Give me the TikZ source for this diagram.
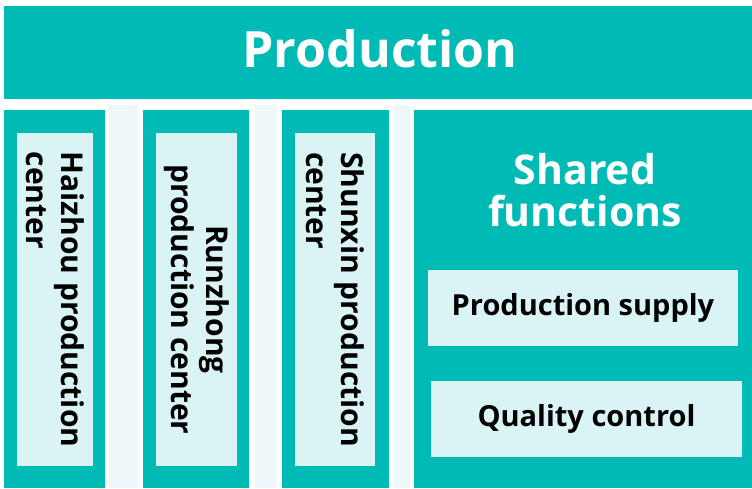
\documentclass[tikz,border=0pt]{standalone}
\usepackage{fontspec}
\setmainfont{Open Sans}
\definecolor{tealc}{RGB}{0,186,181}
\definecolor{paleteal}{RGB}{218,243,244}
\definecolor{strip}{RGB}{238,247,250}
\begin{document}
\begin{tikzpicture}[x=1pt,y=-1pt,
  every node/.style={inner sep=0pt, outer sep=0pt},
  tealbox/.style={fill=tealc, draw=none, anchor=north west},
  palebox/.style={fill=paleteal, draw=none, text=black, font=\bfseries\fontsize{29}{34}\selectfont},
  vertbox/.style={palebox, rotate=-90, minimum width=333pt, font=\bfseries\fontsize{30}{35}\selectfont},
  title/.style={text=white, font=\bfseries\fontsize{50}{60}\selectfont},
  subtitle/.style={text=white, align=center, font=\bfseries\fontsize{41}{42}\selectfont}]
\useasboundingbox (0,0) rectangle (752,488);
\fill[white] (0,0) rectangle (752,488);

% pale separators between the columns
\fill[strip] (109,105) rectangle (138,488);
\fill[strip] (255,105) rectangle (277,488);
\fill[strip] (393,105) rectangle (410,488);

% header band
\node[tealbox, minimum width=748pt, minimum height=93pt] (banner) at (4,6) {};
\node[title, anchor=base] (production) at (380,67) {Production};

% teal columns
\node[tealbox, minimum width=101pt, minimum height=378pt] (col1) at (4,110) {};
\node[tealbox, minimum width=106pt, minimum height=378pt] (col2) at (143,110) {};
\node[tealbox, minimum width=107pt, minimum height=378pt] (col3) at (282,110) {};
\node[tealbox, minimum width=338pt, minimum height=378pt] (col4) at (414,110) {};

% production centers (text reads top to bottom)
\node[vertbox, minimum height=76pt, align=left] (haizhou) at (55,299.5)
  {Haizhou production\\center};
\node[vertbox, minimum height=81pt, align=center] (runzhong) at (196.5,299.5)
  {Runzhong\\production center};
\node[vertbox, minimum height=80pt, align=left] (shunxin) at (335,299.5)
  {Shunxin production\\center};

% shared functions
\node[subtitle, anchor=north] (shared) at (585,153) {Shared\\functions};
\node[palebox, minimum width=310pt, minimum height=76pt] (supply) at (583,308)
  {Production supply};
\node[palebox, minimum width=311pt, minimum height=76pt] (quality) at (586.5,419)
  {Quality control};
\end{tikzpicture}
\end{document}
